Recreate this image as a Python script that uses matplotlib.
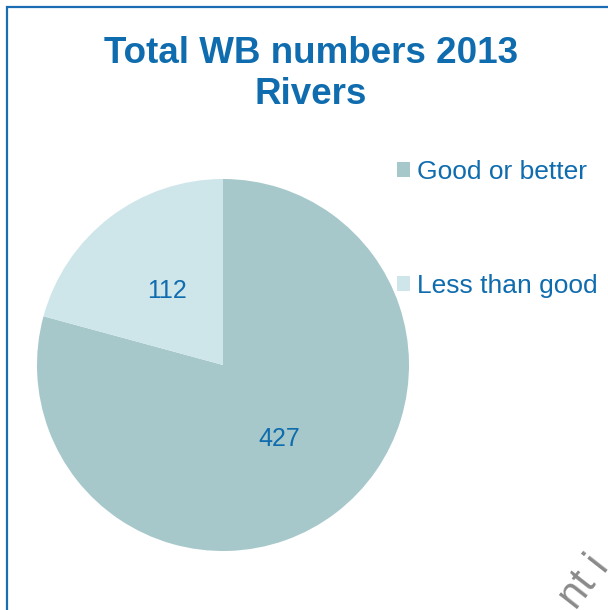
import matplotlib
matplotlib.use("Agg")
import matplotlib.pyplot as plt
from matplotlib.patches import Rectangle

categories = ["Good or better", "Less than good"]
values = [427, 112]
colors = ["#A6C8CA", "#CEE6EA"]
title = "Total WB numbers 2013\nRivers"

text_blue = "#0F6CAE"
plt.rcParams['font.family'] = ['Liberation Sans', 'DejaVu Sans']

fig = plt.figure(figsize=(6.08, 6.10), dpi=100)
W, H = 608, 610

# border frame (extends off the figure at right and bottom)
fig.patches.append(Rectangle((7 / W, -0.1), 1.2, 1 - 7 / H + 0.1, transform=fig.transFigure,
                             fill=False, edgecolor="#1B6DB3", linewidth=1.6))

cx, cy, r = 223, 365, 186
ax = fig.add_axes([(cx - r) / W, 1 - (cy + r) / H, 2 * r / W, 2 * r / H])
wedges, texts = ax.pie(values, colors=colors, startangle=90, counterclock=False,
                       labels=[str(v) for v in values], labeldistance=0.5,
                       textprops=dict(color=text_blue, fontsize=18, ha='center', va='center'),
                       wedgeprops=dict(linewidth=0))
ax.set_xlim(-1, 1)
ax.set_ylim(-1, 1)
ax.set_aspect('equal')

fig.text(311 / W, 1 - 74 / H, title, ha='center', va='center', fontsize=26.5,
         fontweight='bold', color=text_blue, linespacing=1.22)

leg = fig.legend(wedges, categories, loc='upper left', bbox_to_anchor=(397 / W, 1 - 160 / H),
                 frameon=False, fontsize=19, labelcolor=text_blue, handlelength=0.5,
                 handleheight=0.5, handletextpad=0.25, labelspacing=3.4, borderpad=0,
                 borderaxespad=0)

fig.text(584 / W, 1 - 582 / H, "nt i", rotation=52, fontsize=30, color="#8A8A8A",
         ha='center', va='center')

fig.savefig("out.png", dpi=100)
